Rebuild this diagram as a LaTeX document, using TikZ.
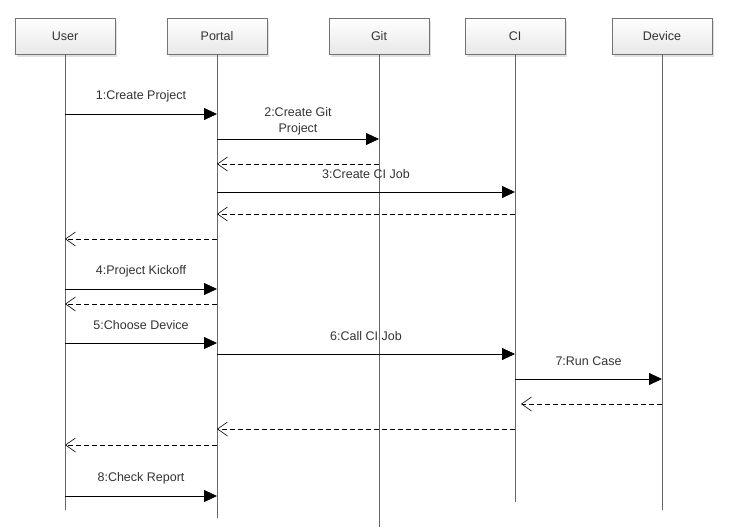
\documentclass[tikz,border=0pt]{standalone}
\usepackage{fontspec}
\setmainfont{Liberation Sans}
\usetikzlibrary{arrows.meta, shadows}

\begin{document}
\begin{tikzpicture}
    [x=1pt, y=-1pt,
    actor/.style={rectangle, minimum width=100pt, minimum height=36pt, draw=black!55, line width=0.6pt, top color=white, bottom color=black!9, drop shadow={shadow xshift=2pt, shadow yshift=-3pt, opacity=0.12, fill=black}, text=black!80, font=\fontsize{12.5}{16}\selectfont},
    lifeline/.style={draw=black!60, line width=0.6pt},
    call/.style={draw=black, line width=0.8pt, -{Triangle[length=13pt,width=12pt]}},
    reply/.style={draw=black, line width=0.7pt, dash pattern=on 5pt off 3pt, -{Straight Barb[length=10pt,width=14pt,line width=0.6pt]}},
    msglabel/.style={midway, yshift=18pt, text=black!80, align=center, font=\fontsize{12.5}{16}\selectfont}]
\path[use as bounding box] (0,0) rectangle (738,532);
\node[actor] (user) at (65,36) {User};
\node[actor] (portal) at (217,36) {Portal};
\node[actor] (git) at (379,36) {Git};
\node[actor] (ci) at (515,36) {CI};
\node[actor] (device) at (662,36) {Device};
\coordinate (userEnd) at (65,510);
\coordinate (portalEnd) at (217,518);
\coordinate (gitEnd) at (379,527);
\coordinate (ciEnd) at (515,502);
\coordinate (deviceEnd) at (662,510);
\foreach \p in {user,portal,git,ci,device}
  \draw[lifeline] (\p) -- (\p End);
\foreach \from/\to/\y/\txt in {user/portal/114/{1:Create Project}, portal/git/139/{2:Create Git\\Project}, portal/ci/192/{3:Create CI Job}, user/portal/289/{4:Project Kickoff}, user/portal/343/{5:Choose Device}, portal/ci/354/{6:Call CI Job}, ci/device/379/{7:Run Case}, user/portal/496/{8:Check Report}}
  \draw[call] (\from |- 0,\y) -- (\to |- 0,\y) node[msglabel] {\txt};
\foreach \from/\to/\y in {git/portal/164, ci/portal/214, portal/user/239, portal/user/304, ci/portal/429, portal/user/445}
  \draw[reply] (\from |- 0,\y) -- (\to |- 0,\y);
\draw[reply, shorten >=6pt] (device |- 0,404) -- (ci |- 0,404);
\end{tikzpicture}
\end{document}
